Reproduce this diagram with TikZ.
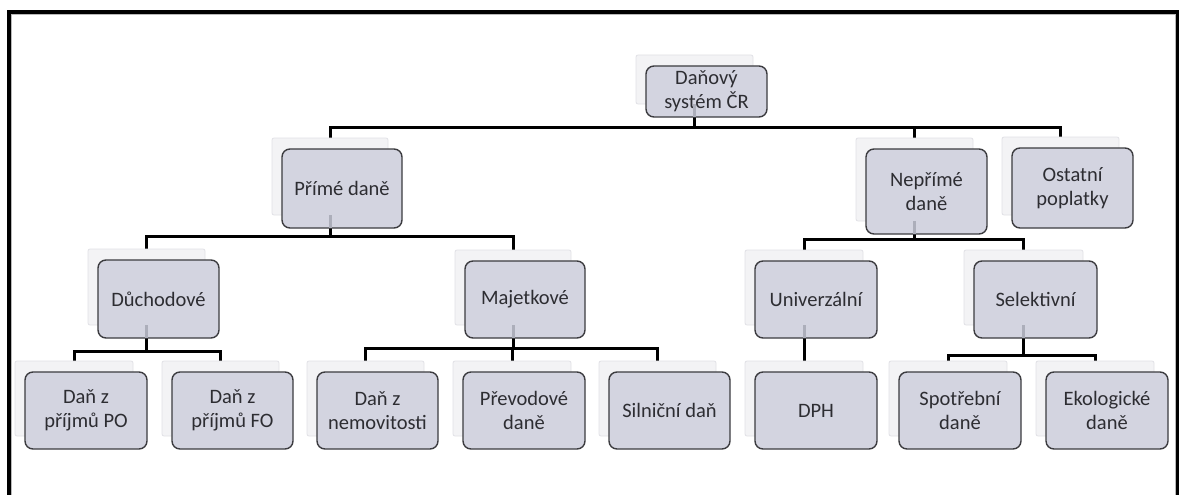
\documentclass[tikz,border=0pt]{standalone}
\usepackage{fontspec}
\setmainfont{Carlito}
\definecolor{boxfill}{RGB}{211,212,224}
\definecolor{boxline}{RGB}{60,60,64}
\definecolor{txt}{RGB}{45,45,50}
\definecolor{shfill}{RGB}{243,243,245}
\definecolor{shline}{RGB}{225,225,230}
\definecolor{faint}{RGB}{172,174,186}
\pgfdeclarelayer{bg}
\pgfdeclarelayer{bgfill}
\pgfsetlayers{bgfill,bg,main}
\tikzset{
  taxbox/.style={draw=boxline, fill=boxfill, line width=1.4pt, rounded corners=8pt,
    inner sep=0pt, outer sep=0pt, align=center, text=txt,
    font=\fontsize{20.5}{24}\selectfont},
  shadowbox/.style={draw=shline, fill=shfill, line width=0.8pt, rounded corners=2pt,
    inner sep=0pt, outer sep=0pt},
  conn/.style={draw=black, line width=3pt, line join=miter},
  faintline/.style={draw=faint, line width=3pt},
  frameline/.style={draw=black, line width=3.5pt, line join=miter}
}
\newcommand\tbox[6]{%
  \node[shadowbox, minimum width={#4-#2-4}, minimum height={#5-#3-2}]
    (#1-s) at ({(#2+#4)/2-12},{(#3+#5)/2-12}) {};
  \node[taxbox, minimum width={#4-#2}, minimum height={#5-#3}]
    (#1) at ({(#2+#4)/2},{(#3+#5)/2}) {#6};
}
\newcommand\hconn[3]{%
  \coordinate (bar-#1) at (0,#2);
  \foreach \ch in {#3} {
    \draw[conn] (#1-s.south) -- (#1-s.south |- bar-#1) -| (\ch-s.north);
  }
}
\begin{document}
\begin{tikzpicture}[x=1pt,y=-1pt]
\useasboundingbox (0,0) rectangle (1180,495);
\begin{pgfonlayer}{bgfill}
\fill[white] (0,0) rectangle (1180,495);
\end{pgfonlayer}
% frame
\draw[frameline] (9,497) -- (9,12) -- (1177.5,12) -- (1177.5,497);
\draw[gray!55, line width=0.7pt] (11.5,497) -- (11.5,14.5) -- (1175,14.5) -- (1175,497);
% nodes
\tbox{root}{646}{66}{767}{117}{Daňový\\systém ČR}
\tbox{prime}{282}{149}{402}{228}{Přímé daně}
\tbox{neprime}{866}{149}{987}{234}{Nepřímé\\daně}
\tbox{ostatni}{1012}{148}{1133}{228}{Ostatní\\poplatky}
\tbox{duch}{98}{260}{219}{338}{Důchodové}
\tbox{majet}{465}{261}{585}{338}{Majetkové}
\tbox{univ}{755}{261}{877}{338}{Univerzální}
\tbox{selek}{974}{261}{1097}{338}{Selektivní}
\tbox{po}{25}{372}{147}{449}{Daň z\\příjmů PO}
\tbox{fo}{172}{372}{293}{449}{Daň z\\příjmů FO}
\tbox{nemo}{317}{372}{438}{449}{Daň z\\nemovitosti}
\tbox{prev}{463}{372}{585}{449}{Převodové\\daně}
\tbox{siln}{609}{372}{730}{449}{Silniční daň}
\tbox{dph}{755}{372}{877}{449}{DPH}
\tbox{spotr}{899}{372}{1021}{449}{Spotřební\\daně}
\tbox{eko}{1046}{372}{1168}{449}{Ekologické\\daně}
% faint connector traces inside parent boxes
\foreach \p in {root,prime,neprime,duch,majet,univ,selek} {
  \draw[faintline] (\p-s.south) -- (\p-s.south |- \p.south);
}
% connectors
\begin{pgfonlayer}{bg}
\hconn{root}{127}{prime,neprime,ostatni}
\hconn{prime}{236}{duch,majet}
\hconn{neprime}{239}{univ,selek}
\hconn{duch}{351}{po,fo}
\hconn{majet}{348}{nemo,prev,siln}
\hconn{selek}{355}{spotr,eko}
\draw[conn] (univ-s.south) -- (dph-s.north);
\end{pgfonlayer}
\end{tikzpicture}
\end{document}
